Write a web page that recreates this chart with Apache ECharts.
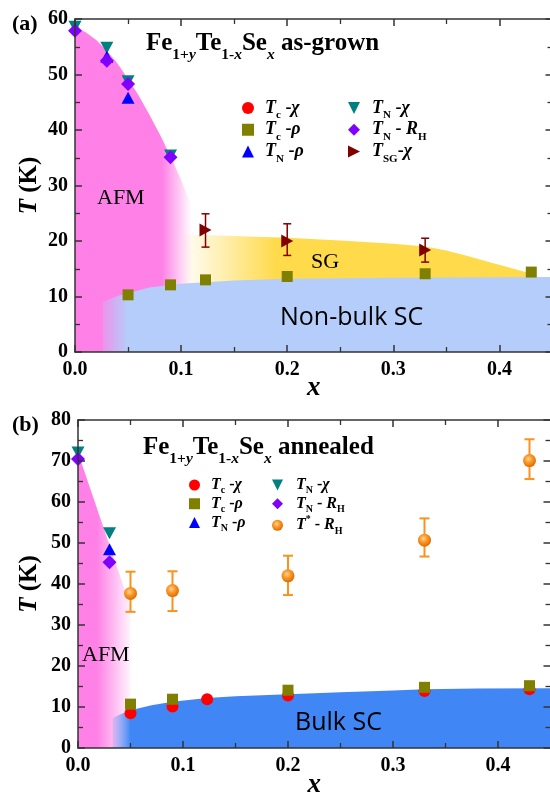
<!DOCTYPE html>
<html><head><meta charset="utf-8">
<script src="https://cdn.jsdelivr.net/npm/echarts@6/dist/echarts.min.js"></script>
<style>html,body{margin:0;padding:0;background:#fff}#c{width:550px;height:794px}</style>
</head><body><div id="c"></div>
<script>
// ================= DATA =================
const xTickLabels = ['0.0', '0.1', '0.2', '0.3', '0.4'];
const yTickLabelsA = ['0', '10', '20', '30', '40', '50', '60'];
const yTickLabelsB = ['0', '10', '20', '30', '40', '50', '60', '70', '80'];

// ---- Panel (a): as-grown ----
const aTcChiX = [];
const aTcChiT = [];
const aTcRhoX = [0.05, 0.09, 0.123, 0.2, 0.33, 0.43];
const aTcRhoT = [10.3, 12.1, 13.0, 13.6, 14.1, 14.4];
const aTNChiX = [0, 0.03, 0.05, 0.09];
const aTNChiT = [58.6, 54.8, 48.8, 35.4];
const aTNRhoX = [0.03, 0.05];
const aTNRhoT = [53.2, 45.8];
const aTNRHX = [0, 0.03, 0.05, 0.09];
const aTNRHT = [57.9, 52.5, 48.3, 35.1];
const aTSGX = [0.123, 0.2, 0.33];
const aTSGT = [22.0, 20.0, 18.4];
const aTSGLow = [18.9, 17.4, 16.2];
const aTSGHigh = [24.9, 23.1, 20.5];
// region outlines (x, T)
const aAFMRegion = [[0,0],[0,58.6],[0.01,57.6],[0.02,56.2],[0.03,54.3],[0.04,52.0],[0.05,49.2],[0.06,46.2],[0.07,42.8],[0.08,39.2],[0.09,35.3],[0.10,31.0],[0.11,26.2],[0.12,21.3],[0.12,0]];
const aSGRegion = [[0.1,21.2],[0.15,20.9],[0.2,20.6],[0.25,20.1],[0.3,19.5],[0.33,19.0],[0.35,18.3],[0.37,17.3],[0.39,16.2],[0.41,15.2],[0.427,14.3],[0.427,12.0],[0.1,12.0]];
const aSCRegion = [[0.026,0],[0.026,9.0],[0.04,10.1],[0.05,10.6],[0.07,11.6],[0.1,12.3],[0.15,12.9],[0.2,13.2],[0.3,13.4],[0.45,13.5],[0.45,0]];

// ---- Panel (b): annealed ----
const bTcChiX = [0.05, 0.09, 0.123, 0.2, 0.33, 0.43];
const bTcChiT = [8.5, 10.1, 11.9, 12.8, 13.9, 14.3];
const bTcRhoX = [0.05, 0.09, 0.2, 0.33, 0.43];
const bTcRhoT = [10.7, 11.9, 14.1, 14.8, 15.2];
const bTNChiX = [0, 0.03];
const bTNChiT = [72.1, 52.4];
const bTNRhoX = [0.03];
const bTNRhoT = [48.5];
const bTNRHX = [0, 0.03];
const bTNRHT = [70.5, 45.3];
const bTstarX = [0.05, 0.09, 0.2, 0.33, 0.43];
const bTstarT = [37.7, 38.4, 42.0, 50.7, 70.1];
const bTstarLow = [33.2, 33.4, 37.3, 46.7, 65.6];
const bTstarHigh = [43.0, 43.1, 46.9, 56.0, 75.3];
const bAFMRegion = [[0,0],[0,72.0],[0.05,34.5],[0.05,0]];
const bSCRegion = [[0.033,0],[0.033,7.3],[0.04,8.2],[0.05,9.2],[0.07,10.4],[0.09,11.3],[0.123,12.2],[0.15,12.6],[0.2,13.1],[0.25,13.6],[0.3,14.0],[0.33,14.3],[0.38,14.5],[0.45,14.6],[0.45,0]];

// ================= STYLE / BUILD =================
const SERIF = '"Liberation Serif", "Times New Roman", serif';
const SANS = '"Open Sans", "DejaVu Sans", sans-serif';
const PINK = '#ff80e6';
const LBLUE = '#b4cdfa';
const DBLUE = '#4087f5';
const YELLOW = '#ffda4a';
const AX = '#333';

const zip = (xs, ys) => xs.map((x, i) => [x, ys[i]]);
const rgba = (hex, a) => {
  const n = parseInt(hex.slice(1), 16);
  return `rgba(${(n>>16)&255},${(n>>8)&255},${n&255},${a})`;
};

function regionSeries(gi, poly, color, gx0, gx1, a0, a1, z) {
  return {
    type: 'custom', xAxisIndex: gi * 2, yAxisIndex: gi * 2, z: z, silent: true, clip: true,
    data: poly,
    renderItem: function (params, api) {
      if (params.dataIndex !== 0) return null;
      const points = poly.map(p => api.coord(p));
      const px0 = api.coord([gx0, 0])[0];
      const px1 = api.coord([gx1, 0])[0];
      const fill = new echarts.graphic.LinearGradient(px0, 0, px1, 0, [
        { offset: 0, color: rgba(color, a0) },
        { offset: 1, color: rgba(color, a1) }
      ], true);
      return { type: 'polygon', shape: { points: points }, style: { fill: fill } };
    }
  };
}

function errorSeries(gi, xs, lows, highs, color, cap, lw) {
  return {
    type: 'custom', xAxisIndex: gi * 2, yAxisIndex: gi * 2, z: 2, silent: true, clip: false,
    data: xs.map((x, i) => [x, lows[i], highs[i]]),
    renderItem: function (params, api) {
      const lo = api.coord([api.value(0), api.value(1)]);
      const hi = api.coord([api.value(0), api.value(2)]);
      const st = { stroke: color, lineWidth: lw };
      return { type: 'group', children: [
        { type: 'line', shape: { x1: lo[0], y1: lo[1], x2: hi[0], y2: hi[1] }, style: st },
        { type: 'line', shape: { x1: lo[0] - cap / 2, y1: lo[1], x2: lo[0] + cap / 2, y2: lo[1] }, style: st },
        { type: 'line', shape: { x1: hi[0] - cap / 2, y1: hi[1], x2: hi[0] + cap / 2, y2: hi[1] }, style: st }
      ]};
    }
  };
}

function scatter(gi, name, xs, ys, symbol, size, color) {
  return {
    type: 'scatter', name: name, xAxisIndex: gi * 2, yAxisIndex: gi * 2, z: 3, silent: true,
    symbol: symbol, symbolSize: size, data: zip(xs, ys),
    itemStyle: { color: color, opacity: 1 }
  };
}

const DOWN = 'path://M0,0L10,0L5,10Z';
const RIGHT = 'path://M0,0L10,5L0,10Z';
const sphere = new echarts.graphic.RadialGradient(0.42, 0.38, 0.62, [
  { offset: 0, color: '#ffd49a' },
  { offset: 0.45, color: '#fb9a2a' },
  { offset: 1, color: '#e06c00' }
]);

const legendText = {
  aTcChi: '{T|T}{s|c}{n| -}{t|χ}', aTcRho: '{T|T}{s|c}{n| -}{t|ρ}', aTNRho: '{T|T}{s|N}{n| -}{t|ρ}',
  aTNChi: '{T|T}{s|N}{n| -}{t|χ}', aTNRH: '{T|T}{s|N}{n| - }{t|R}{s|H}', aTSG: '{T|T}{s|SG}{n|-}{t|χ}',
  bTcChi: '{T|T}{s|c}{n| -}{t|χ}', bTcRho: '{T|T}{s|c}{n| -}{t|ρ}', bTNRho: '{T|T}{s|N}{n| -}{t|ρ}',
  bTNChi: '{T|T}{s|N}{n| -}{t|χ}', bTNRH: '{T|T}{s|N}{n| - }{t|R}{s|H}', bTstar: '{T|T}{p|*}{n| - }{t|R}{s|H}'
};

function legendRich(fs, sfs, lh, pad) {
  const b = { fontFamily: SERIF, fontWeight: 'bold', color: '#000' };
  return {
    T: Object.assign({}, b, { fontStyle: 'italic', fontSize: fs, lineHeight: lh, padding: [0, 0, 0, pad] }),
    t: Object.assign({}, b, { fontStyle: 'italic', fontSize: fs, lineHeight: lh }),
    n: Object.assign({}, b, { fontSize: fs, lineHeight: lh }),
    s: Object.assign({}, b, { fontSize: sfs, lineHeight: sfs, verticalAlign: 'bottom' }),
    p: Object.assign({}, b, { fontSize: sfs, lineHeight: sfs, verticalAlign: 'top' })
  };
}

function legend(left, top, names, fs, sfs, lh, pad, iw) {
  return {
    orient: 'vertical', left: left, top: top, padding: 0, itemGap: 0,
    itemWidth: iw, itemHeight: iw, selectedMode: false, data: names,
    formatter: n => legendText[n],
    textStyle: { fontFamily: SERIF, fontWeight: 'bold', fontSize: fs, color: '#000', rich: legendRich(fs, sfs, lh, pad) }
  };
}

const tickLabelStyle = { fontFamily: SERIF, fontWeight: 'bold', fontSize: 20, color: '#000' };

function xAxes(gi, nameGap) {
  const common = {
    type: 'value', gridIndex: gi, min: 0, max: 0.45, interval: 0.1, z: 10,
    axisLine: { show: true, onZero: false, lineStyle: { color: AX, width: 1.5 } },
    axisTick: { show: true, inside: true, length: 7, lineStyle: { color: AX, width: 1.5 } },
    minorTick: { show: true, splitNumber: 2, length: 5, lineStyle: { color: AX, width: 1.3 } },
    splitLine: { show: false }, minorSplitLine: { show: false }
  };
  return [
    Object.assign({}, common, {
      position: 'bottom',
      axisLabel: Object.assign({ show: true, margin: 8, showMaxLabel: false,
        formatter: v => { const i = Math.round(v * 10); return Math.abs(v * 10 - i) < 1e-6 && xTickLabels[i] ? xTickLabels[i] : ''; } }, tickLabelStyle),
      name: 'x', nameLocation: 'middle', nameGap: nameGap, nameMoveOverlap: false,
      nameTextStyle: { fontFamily: SERIF, fontWeight: 'bold', fontStyle: 'italic', fontSize: 27, color: '#000' }
    }),
    Object.assign({}, common, { position: 'top', axisLabel: { show: false } })
  ];
}

function yAxes(gi, maxV, labels, nameGap) {
  const common = {
    type: 'value', gridIndex: gi, min: 0, max: maxV, interval: 10, z: 10,
    axisLine: { show: true, onZero: false, lineStyle: { color: AX, width: 1.5 } },
    axisTick: { show: true, inside: true, length: 7, lineStyle: { color: AX, width: 1.5 } },
    minorTick: { show: true, splitNumber: 2, length: 5, lineStyle: { color: AX, width: 1.3 } },
    splitLine: { show: false }, minorSplitLine: { show: false }
  };
  return [
    Object.assign({}, common, {
      position: 'left',
      axisLabel: Object.assign({ show: true, margin: 7, formatter: v => labels[Math.round(v / 10)] || '' }, tickLabelStyle),
      name: '{t|T} (K)', nameLocation: 'middle', nameRotate: 90, nameGap: nameGap, nameMoveOverlap: false,
      nameTextStyle: { fontFamily: SERIF, fontWeight: 'bold', fontSize: 25, color: '#000',
        rich: { t: { fontFamily: SERIF, fontWeight: 'bold', fontStyle: 'italic', fontSize: 25, color: '#000' } } }
    }),
    Object.assign({}, common, { position: 'right', axisLabel: { show: false } })
  ];
}

const titleRich = {
  m: { fontFamily: SERIF, fontWeight: 'bold', fontSize: 25, lineHeight: 37, fill: '#000' },
  s: { fontFamily: SERIF, fontWeight: 'bold', fontSize: 15.5, lineHeight: 15.5, verticalAlign: 'bottom', fill: '#000' },
  si: { fontFamily: SERIF, fontWeight: 'bold', fontStyle: 'italic', fontSize: 15.5, lineHeight: 15.5, verticalAlign: 'bottom', fill: '#000' }
};

function text(x, y, str, font, extra) {
  return { type: 'text', x: x, y: y, z: 20, silent: true,
    style: Object.assign({ text: str, font: font, fill: '#000', verticalAlign: 'middle', align: 'left' }, extra || {}) };
}

const option = {
  animation: false,
  backgroundColor: '#fff',
  grid: [
    { left: 75, top: 19, width: 477.5, height: 333, outerBoundsMode: 'none', containLabel: false },
    { left: 78, top: 420, width: 472.5, height: 328, outerBoundsMode: 'none', containLabel: false }
  ],
  xAxis: [].concat(xAxes(0, 23), xAxes(1, 24)),
  yAxis: [].concat(yAxes(0, 60, yTickLabelsA, 33), yAxes(1, 80, yTickLabelsB, 36)),
  legend: [
    legend(242, 99, ['aTcChi', 'aTcRho', 'aTNRho'], 18, 11, 25.5, 6, 12),
    legend(348, 99, ['aTNChi', 'aTNRH', 'aTSG'], 18, 11, 25.5, 7, 12),
    legend(189, 477, ['bTcChi', 'bTcRho', 'bTNRho'], 16, 10, 21.5, 6, 11),
    legend(272, 477, ['bTNChi', 'bTNRH', 'bTstar'], 16, 10, 21.5, 8, 11)
  ],
  series: [
    // panel (a) regions
    regionSeries(0, aAFMRegion, PINK, 0.082, 0.11, 1, 0, 1),
    regionSeries(0, aSGRegion, YELLOW, 0.1, 0.19, 0, 1, 1),
    regionSeries(0, aSCRegion, LBLUE, 0.026, 0.05, 0.25, 1, 1),
    errorSeries(0, aTSGX, aTSGLow, aTSGHigh, '#800000', 8, 1.5),
    scatter(0, 'aTcChi', aTcChiX, aTcChiT, 'circle', 12, '#ff0000'),
    scatter(0, 'aTcRho', aTcRhoX, aTcRhoT, 'rect', 11, '#808000'),
    scatter(0, 'aTNChi', aTNChiX, aTNChiT, DOWN, [13, 12], '#008080'),
    scatter(0, 'aTNRho', aTNRhoX, aTNRhoT, 'triangle', [13, 12], '#0000ff'),
    scatter(0, 'aTNRH', aTNRHX, aTNRHT, 'diamond', 14, '#8000ff'),
    scatter(0, 'aTSG', aTSGX, aTSGT, RIGHT, [12, 13], '#800000'),
    // panel (b) regions
    regionSeries(1, bAFMRegion, PINK, 0.018, 0.05, 1, 0.08, 1),
    regionSeries(1, bSCRegion, DBLUE, 0.033, 0.05, 0.15, 1, 1),
    errorSeries(1, bTstarX, bTstarLow, bTstarHigh, '#f7931e', 10, 2),
    scatter(1, 'bTcChi', bTcChiX, bTcChiT, 'circle', 12, '#ff0000'),
    scatter(1, 'bTcRho', bTcRhoX, bTcRhoT, 'rect', 11, '#808000'),
    scatter(1, 'bTNChi', bTNChiX, bTNChiT, DOWN, [13, 12], '#008080'),
    scatter(1, 'bTNRho', bTNRhoX, bTNRhoT, 'triangle', [13, 12], '#0000ff'),
    scatter(1, 'bTNRH', bTNRHX, bTNRHT, 'diamond', 14, '#8000ff'),
    scatter(1, 'bTstar', bTstarX, bTstarT, 'circle', 13, sphere)
  ],
  graphic: { elements: [
    text(12, 24, '(a)', 'bold 22px ' + SERIF),
    text(12, 425, '(b)', 'bold 22px ' + SERIF),
    text(146, 44, '{m|Fe}{s|1+}{si|y}{m|Te}{s|1-}{si|x}{m|Se}{si|x}{m| as-grown}', 'bold 25px ' + SERIF, { rich: titleRich }),
    text(143, 448, '{m|Fe}{s|1+}{si|y}{m|Te}{s|1-}{si|x}{m|Se}{si|x}{m| annealed}', 'bold 25px ' + SERIF, { rich: titleRich }),
    text(97, 198, 'AFM', '22px ' + SERIF),
    text(311, 262, 'SG', '22px ' + SERIF),
    text(280, 318, 'Non-bulk SC', '25px ' + SANS),
    text(82, 655, 'AFM', '22px ' + SERIF),
    text(295, 723, 'Bulk SC', '25px ' + SANS)
  ]}
};

const chart = echarts.init(document.getElementById('c'), null, { renderer: 'canvas', width: 550, height: 794 });
chart.setOption(option);
</script>
</body></html>
